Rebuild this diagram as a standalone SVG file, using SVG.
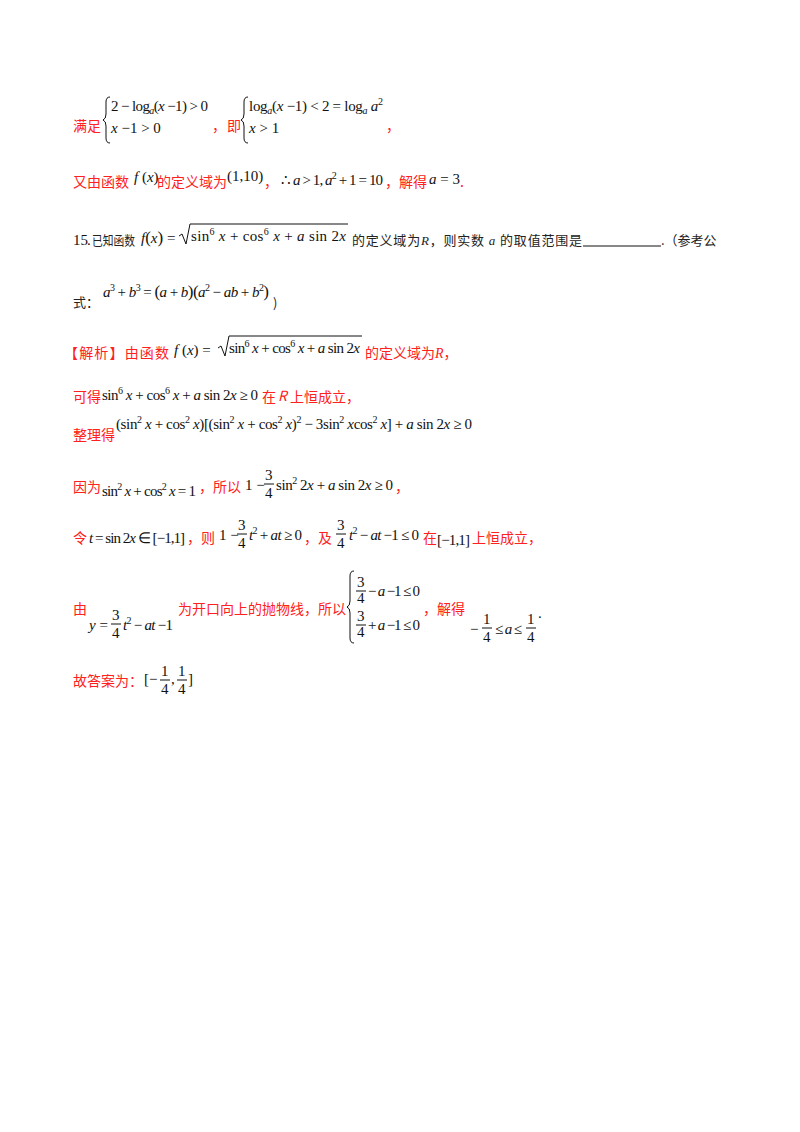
<svg xmlns="http://www.w3.org/2000/svg" width="800" height="1132" viewBox="0 0 800 1132">
<style>
.r{fill:#ff2020;font-family:"Noto Sans CJK SC","Noto Sans",sans-serif;font-size:14px}
.k{fill:#222;font-family:"Noto Sans CJK SC","Noto Sans",sans-serif;font-size:13px}
.m{fill:#111;font-family:"Liberation Serif",serif;font-size:15px}
.s{font-size:10px}
.ln{stroke:#111;stroke-width:1;fill:none}
</style>
<rect width="800" height="1132" fill="#fff"/>
<text class="r" x="73" y="131">满足</text>
<path class="ln" d="M110,97 q-4,0 -4,5 v12 q0,5 -3,6 q3,1 3,6 v12 q0,5 4,5"/>
<text class="m" x="111" y="111" textLength="97">2 − log<tspan class="s" font-style="italic" dy="3">a</tspan><tspan dy="-3">(</tspan><tspan font-style="italic">x</tspan> −1) &gt; 0</text>
<text class="m" x="111" y="133"><tspan font-style="italic">x</tspan> −1 &gt; 0</text>
<text class="r" x="212" y="131">，</text>
<text class="r" x="227" y="131">即</text>
<path class="ln" d="M248,97 q-4,0 -4,5 v12 q0,5 -3,6 q3,1 3,6 v12 q0,5 4,5"/>
<text class="m" x="249" y="111" textLength="134">log<tspan class="s" font-style="italic" dy="3">a</tspan><tspan dy="-3">(</tspan><tspan font-style="italic">x</tspan> −1) &lt; 2 = log<tspan class="s" font-style="italic" dy="3">a</tspan><tspan font-style="italic" dy="-3"> a</tspan><tspan class="s" dy="-6">2</tspan></text>
<text class="m" x="249" y="133"><tspan font-style="italic">x</tspan> &gt; 1</text>
<text class="r" x="386" y="131">，</text>

<text class="r" x="73" y="187">又由函数</text>
<text class="m" x="134" y="182" font-size="13"><tspan font-style="italic">f</tspan> (<tspan font-style="italic">x</tspan>)</text>
<text class="r" x="157" y="187">的定义域为</text>
<text class="m" x="227" y="181">(1,10)</text>
<text class="r" x="264" y="187">，</text>
<text class="m" x="281" y="185" textLength="102">∴ <tspan font-style="italic">a</tspan> &gt; 1, <tspan font-style="italic">a</tspan><tspan class="s" dy="-6">2</tspan><tspan dy="6"> + 1 = 10</tspan></text>
<text class="r" x="385" y="187">，解得</text>
<text class="m" x="429" y="184" font-size="13"><tspan font-style="italic">a</tspan> = 3</text>
<text class="r" x="460" y="187">.</text>

<text class="m" x="73" y="245" font-size="14">15</text>
<text class="m" x="87" y="245" font-size="14">.</text>
<text class="k" x="92" y="245" font-size="11" textLength="43" lengthAdjust="spacingAndGlyphs">已知函数</text>
<text class="m" x="141" y="243" font-size="14"><tspan font-style="italic">f</tspan><tspan font-size="17">(</tspan><tspan font-style="italic">x</tspan><tspan font-size="17">)</tspan> =</text>
<path class="ln" d="M179,236 l3,-2 l4,10 l4,-20 h158"/>
<text class="m" x="191" y="241" font-size="14" textLength="155">sin<tspan class="s" dy="-6">6</tspan><tspan dy="6"> </tspan><tspan font-style="italic">x</tspan> + cos<tspan class="s" dy="-6">6</tspan><tspan dy="6"> </tspan><tspan font-style="italic">x</tspan> + <tspan font-style="italic">a</tspan> sin 2<tspan font-style="italic">x</tspan></text>
<text class="k" x="352" y="245" textLength="230">的定义域为<tspan font-family="Liberation Serif" font-style="italic">R</tspan>，则实数<tspan font-family="Liberation Serif" font-style="italic"> a </tspan>的取值范围是</text>
<line class="ln" x1="583" y1="246" x2="661" y2="246"/>
<text class="k" x="661" y="245" font-size="14">.（参考公</text>
<text class="k" x="73" y="307">式：</text>
<text class="m" x="103" y="297" font-size="13" textLength="166"><tspan font-style="italic">a</tspan><tspan class="s" dy="-6">3</tspan><tspan dy="6"> + </tspan><tspan font-style="italic">b</tspan><tspan class="s" dy="-6">3</tspan><tspan dy="6"> = </tspan><tspan font-size="17">(</tspan><tspan font-style="italic">a</tspan> + <tspan font-style="italic">b</tspan><tspan font-size="17">)(</tspan><tspan font-style="italic">a</tspan><tspan class="s" dy="-6">2</tspan><tspan dy="6"> − </tspan><tspan font-style="italic">ab</tspan> + <tspan font-style="italic">b</tspan><tspan class="s" dy="-6">2</tspan><tspan dy="6" font-size="17">)</tspan></text>
<text class="k" x="273" y="308" font-size="12">)</text>

<text class="r" x="64" y="358" textLength="105">【解析】由函数</text>
<text class="m" x="174" y="355" font-size="16"><tspan font-style="italic">f</tspan> (<tspan font-style="italic">x</tspan>) =</text>
<path class="ln" d="M218,348 l3,-2 l4,10 l4,-20 h133"/>
<text class="m" x="229" y="353" font-size="15" textLength="131">sin<tspan class="s" dy="-6">6</tspan><tspan dy="6"> </tspan><tspan font-style="italic">x</tspan> + cos<tspan class="s" dy="-6">6</tspan><tspan dy="6"> </tspan><tspan font-style="italic">x</tspan> + <tspan font-style="italic">a</tspan> sin 2<tspan font-style="italic">x</tspan></text>
<text class="r" x="365" y="358">的定义域为<tspan font-family="Liberation Serif" font-style="italic">R</tspan>，</text>

<text class="r" x="73" y="402">可得</text>
<text class="m" x="102" y="400" textLength="156">sin<tspan class="s" dy="-6">6</tspan><tspan dy="6"> </tspan><tspan font-style="italic">x</tspan> + cos<tspan class="s" dy="-6">6</tspan><tspan dy="6"> </tspan><tspan font-style="italic">x</tspan> + <tspan font-style="italic">a</tspan> sin 2<tspan font-style="italic">x</tspan> ≥ 0</text>
<text class="r" x="262" y="402">在</text>
<text class="r" x="278" y="401" font-family="Liberation Serif" font-style="italic" font-size="12">R</text>
<text class="r" x="290" y="402">上恒成立，</text>

<text class="r" x="73" y="440">整理得</text>
<text class="m" x="116" y="429" textLength="356">(sin<tspan class="s" dy="-6">2</tspan><tspan dy="6"> </tspan><tspan font-style="italic">x</tspan> + cos<tspan class="s" dy="-6">2</tspan><tspan dy="6"> </tspan><tspan font-style="italic">x</tspan>)[(sin<tspan class="s" dy="-6">2</tspan><tspan dy="6"> </tspan><tspan font-style="italic">x</tspan> + cos<tspan class="s" dy="-6">2</tspan><tspan dy="6"> </tspan><tspan font-style="italic">x</tspan>)<tspan class="s" dy="-6">2</tspan><tspan dy="6"> − 3sin</tspan><tspan class="s" dy="-6">2</tspan><tspan dy="6"> </tspan><tspan font-style="italic">x</tspan>cos<tspan class="s" dy="-6">2</tspan><tspan dy="6"> </tspan><tspan font-style="italic">x</tspan>] + <tspan font-style="italic">a</tspan> sin 2<tspan font-style="italic">x</tspan> ≥ 0</text>

<text class="r" x="73" y="492">因为</text>
<text class="m" x="102" y="496" font-size="14" textLength="94">sin<tspan class="s" dy="-6">2</tspan><tspan dy="6"> </tspan><tspan font-style="italic">x</tspan> + cos<tspan class="s" dy="-6">2</tspan><tspan dy="6"> </tspan><tspan font-style="italic">x</tspan> = 1</text>
<text class="r" x="199" y="492">，所以</text>
<text class="m" x="245" y="490">1 −</text>
<text class="m" x="265" y="480" font-size="14">3</text>
<line class="ln" x1="264" y1="484" x2="274" y2="484"/>
<text class="m" x="265" y="498" font-size="14">4</text>
<text class="m" x="276" y="490" textLength="117">sin<tspan class="s" dy="-6">2</tspan><tspan dy="6"> 2</tspan><tspan font-style="italic">x</tspan> + <tspan font-style="italic">a</tspan> sin 2<tspan font-style="italic">x</tspan> ≥ 0</text>
<text class="r" x="395" y="492">，</text>

<text class="r" x="73" y="543">令</text>
<text class="m" x="89" y="543" textLength="96"><tspan font-style="italic">t</tspan> = sin 2<tspan font-style="italic">x</tspan> ∈ [−1,1]</text>
<text class="r" x="187" y="543">，则</text>
<text class="m" x="219" y="540">1 −</text>
<text class="m" x="238" y="530" font-size="14">3</text>
<line class="ln" x1="237" y1="534" x2="247" y2="534"/>
<text class="m" x="238" y="548" font-size="14">4</text>
<text class="m" x="249" y="540" textLength="53"><tspan font-style="italic">t</tspan><tspan class="s" dy="-6">2</tspan><tspan dy="6"> + </tspan><tspan font-style="italic">at</tspan> ≥ 0</text>
<text class="r" x="304" y="543">，及</text>
<text class="m" x="337" y="530" font-size="14">3</text>
<line class="ln" x1="336" y1="534" x2="346" y2="534"/>
<text class="m" x="337" y="548" font-size="14">4</text>
<text class="m" x="349" y="540" textLength="70"><tspan font-style="italic">t</tspan><tspan class="s" dy="-6">2</tspan><tspan dy="6"> − </tspan><tspan font-style="italic">at</tspan> −1 ≤ 0</text>
<text class="r" x="423" y="543">在</text>
<text class="m" x="437" y="545" textLength="33">[−1,1]</text>
<text class="r" x="472" y="543">上恒成立，</text>

<text class="r" x="73" y="614">由</text>
<text class="m" x="89" y="630"><tspan font-style="italic">y</tspan> =</text>
<text class="m" x="112" y="620" font-size="14">3</text>
<line class="ln" x1="111" y1="624" x2="121" y2="624"/>
<text class="m" x="112" y="638" font-size="14">4</text>
<text class="m" x="123" y="630" textLength="50"><tspan font-style="italic">t</tspan><tspan class="s" dy="-6">2</tspan><tspan dy="6"> − </tspan><tspan font-style="italic">at</tspan> −1</text>
<text class="r" x="178" y="614">为开口向上的抛物线，所以</text>
<path class="ln" d="M354,571 q-4,0 -4,5 v25 q0,5 -3,6 q3,1 3,6 v25 q0,5 4,5"/>
<text class="m" x="357" y="587" font-size="13">3</text>
<line class="ln" x1="356" y1="591" x2="366" y2="591"/>
<text class="m" x="357" y="603" font-size="13">4</text>
<text class="m" x="368" y="596" textLength="52">− <tspan font-style="italic">a</tspan> −1 ≤ 0</text>
<text class="m" x="357" y="621" font-size="13">3</text>
<line class="ln" x1="356" y1="625" x2="366" y2="625"/>
<text class="m" x="357" y="637" font-size="13">4</text>
<text class="m" x="368" y="630" textLength="52">+ <tspan font-style="italic">a</tspan> −1 ≤ 0</text>
<text class="r" x="423" y="614">，解得</text>
<text class="m" x="470" y="634">−</text>
<text class="m" x="483" y="624" font-size="14">1</text>
<line class="ln" x1="482" y1="628" x2="492" y2="628"/>
<text class="m" x="483" y="642" font-size="14">4</text>
<text class="m" x="495" y="634" textLength="27">≤ <tspan font-style="italic">a</tspan> ≤</text>
<text class="m" x="527" y="624" font-size="14">1</text>
<line class="ln" x1="526" y1="628" x2="536" y2="628"/>
<text class="m" x="527" y="642" font-size="14">4</text>
<text class="m" x="538" y="618" font-size="10">.</text>

<text class="r" x="73" y="686">故答案为：</text>
<text class="m" x="144" y="684">[−</text>
<text class="m" x="161" y="676" font-size="14">1</text>
<line class="ln" x1="160" y1="680" x2="170" y2="680"/>
<text class="m" x="161" y="694" font-size="14">4</text>
<text class="m" x="171" y="684">,</text>
<text class="m" x="178" y="676" font-size="14">1</text>
<line class="ln" x1="177" y1="680" x2="187" y2="680"/>
<text class="m" x="178" y="694" font-size="14">4</text>
<text class="m" x="188" y="684">]</text>
</svg>
